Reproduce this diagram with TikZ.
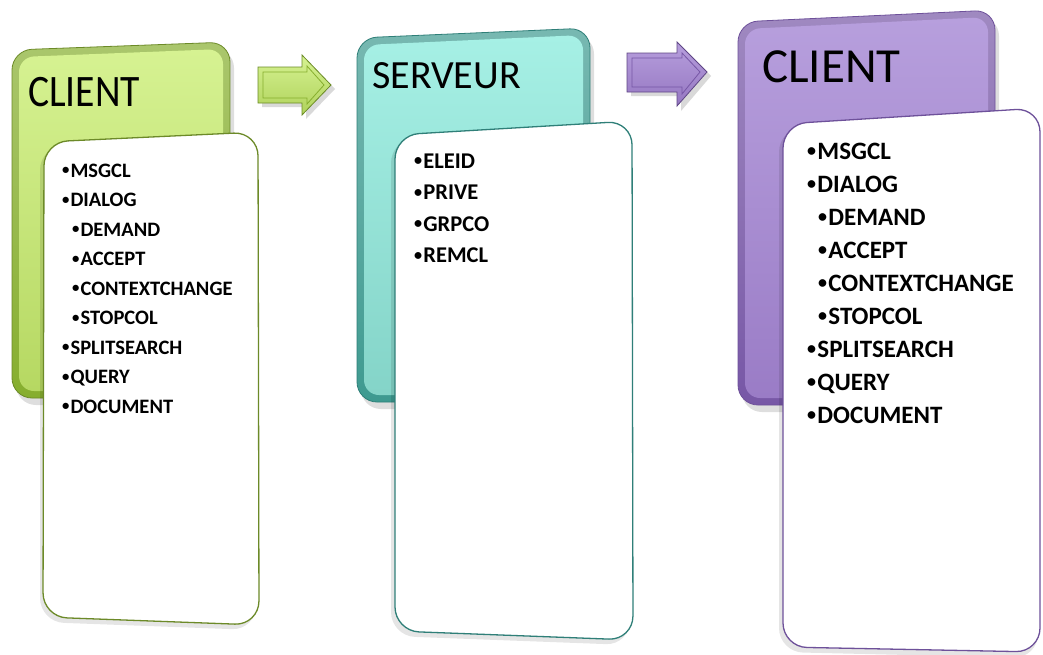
\documentclass[tikz,border=0pt]{standalone}
\usepackage{fontspec}
\setmainfont{Carlito}
\newcommand\bul{\raisebox{0.1em}{\scalebox{0.72}{•}}\kern0.05em}
\begin{document}
\begin{tikzpicture}[x=1pt,y=-1pt,
  item/.style={inner sep=0pt,anchor=base west,font=\bfseries},
  title/.style={inner sep=0pt,anchor=base west},
  card/.style={fill=white,line width=1.3pt,rounded corners=24pt},
  rim/.style={line width=0.8pt,rounded corners=20pt},
  panel/.style={rounded corners=15pt},
  shadowfill/.style={fill=black,opacity=0.13,rounded corners=20pt},
  barrow/.style={line width=0.8pt,line join=miter}
]
\definecolor{gRim}{HTML}{86AE2E}
\definecolor{gTop}{HTML}{D6F292}
\definecolor{gBot}{HTML}{B6D862}
\definecolor{gLine}{HTML}{6C8A28}
\definecolor{tRim}{HTML}{3E9A90}
\definecolor{tTop}{HTML}{A6F0E5}
\definecolor{tBot}{HTML}{84D4C8}
\definecolor{tLine}{HTML}{2F7F78}
\definecolor{pRim}{HTML}{7757A6}
\definecolor{pTop}{HTML}{B79FDD}
\definecolor{pBot}{HTML}{9A7CC6}
\definecolor{pLine}{HTML}{6E519A}

\useasboundingbox (0,0) rectangle (1043,654);
\fill[white] (0,0) rectangle (1043,654);

% ---------- back boxes ----------
% green
\fill[shadowfill] (16,56) -- (234,48) -- (234,405) -- (16,405) -- cycle;
\shade[rim,top color=gRim!70!white,bottom color=gRim,draw=gLine] (12,50) -- (230,42) -- (230,398) -- (12,398) -- cycle;
\shade[panel,top color=gTop,bottom color=gBot] (19,57) -- (223,49) -- (223,391) -- (19,391) -- cycle;
% teal
\fill[shadowfill] (361,44) -- (594,34) -- (594,409) -- (361,409) -- cycle;
\shade[rim,top color=tRim!70!white,bottom color=tRim,draw=tLine] (357,38) -- (590,28) -- (590,402) -- (357,402) -- cycle;
\shade[panel,top color=tTop,bottom color=tBot] (364,45) -- (583,35) -- (583,395) -- (364,395) -- cycle;
% purple
\fill[shadowfill] (742,28) -- (999,16) -- (999,412) -- (742,412) -- cycle;
\shade[rim,top color=pRim!70!white,bottom color=pRim,draw=pLine] (738,22) -- (995,10) -- (995,405) -- (738,405) -- cycle;
\shade[panel,top color=pTop,bottom color=pBot] (745,29) -- (988,17) -- (988,398) -- (745,398) -- cycle;

% ---------- titles ----------
\node[title,xscale=0.88,font=\fontsize{45}{45}\selectfont] (t1) at (28,106) {CLIENT};
\node[title,font=\fontsize{40}{40}\selectfont] (t2) at (372,88) {SERVEUR};
\node[title,font=\fontsize{49}{49}\selectfont] (t3) at (762,82) {CLIENT};

% ---------- arrows ----------
\fill[black,opacity=0.15] (262,71) -- (306,71) -- (306,59) -- (335,89) -- (306,119) -- (306,107) -- (262,107) -- cycle;
\shade[barrow,top color=gTop,bottom color=gBot!85!gRim,draw=gRim!80!black]
  (258,67) -- (302,67) -- (302,55) -- (331,85) -- (302,115) -- (302,103) -- (258,103) -- cycle;
\draw[gRim,line width=0.8pt] (263,72) -- (307,72) -- (307,66) -- (324,85) -- (307,104) -- (307,98) -- (263,98) -- cycle;

\fill[black,opacity=0.15] (631,57) -- (681,57) -- (681,46) -- (711,76) -- (681,111) -- (681,96) -- (631,96) -- cycle;
\shade[barrow,top color=pTop,bottom color=pBot!85!pRim,draw=pRim!80!black]
  (627,53) -- (677,53) -- (677,42) -- (707,72) -- (677,106) -- (677,92) -- (627,92) -- cycle;
\draw[pRim,line width=0.8pt] (632,58) -- (682,58) -- (682,53) -- (700,72) -- (682,94) -- (682,87) -- (632,87) -- cycle;

% ---------- cards ----------
\fill[black,opacity=0.10,rounded corners=24pt] (40,146) -- (255,136) -- (256,630) -- (40,622) -- cycle;
\draw[card,draw=gLine] (44,142) -- (258,132) -- (259,625) -- (43,617) -- cycle;
\fill[black,opacity=0.10,rounded corners=24pt] (391,139) -- (629,125) -- (630,645) -- (391,636) -- cycle;
\draw[card,draw=tLine] (395,135) -- (632,121) -- (633,640) -- (395,631) -- cycle;
\fill[black,opacity=0.10,rounded corners=24pt] (779,128) -- (1038,112) -- (1038,658) -- (779,652) -- cycle;
\draw[card,draw=pLine] (783,124) -- (1040,108) -- (1040,652) -- (783,647) -- cycle;

% ---------- lists ----------
\foreach \ind/\t [count=\i] in {0/MSGCL,0/DIALOG,1/DEMAND,1/ACCEPT,1/CONTEXTCHANGE,1/STOPCOL,0/SPLITSEARCH,0/QUERY,0/DOCUMENT}
  \node[item,font=\bfseries\fontsize{20.5}{20.5}\selectfont] (g\i) at ({62+10*\ind},{177+29.5*(\i-1)}) {\bul\t};
\foreach \t [count=\i] in {ELEID,PRIVE,GRPCO,REMCL}
  \node[item,font=\bfseries\fontsize{22.5}{22.5}\selectfont] (s\i) at (414,{168+31.5*(\i-1)}) {\bul\t};
\foreach \ind/\t [count=\i] in {0/MSGCL,0/DIALOG,1/DEMAND,1/ACCEPT,1/CONTEXTCHANGE,1/STOPCOL,0/SPLITSEARCH,0/QUERY,0/DOCUMENT}
  \node[item,font=\bfseries\fontsize{25}{25}\selectfont] (p\i) at ({807+11*\ind},{159+33*(\i-1)}) {\bul\t};
\end{tikzpicture}
\end{document}
